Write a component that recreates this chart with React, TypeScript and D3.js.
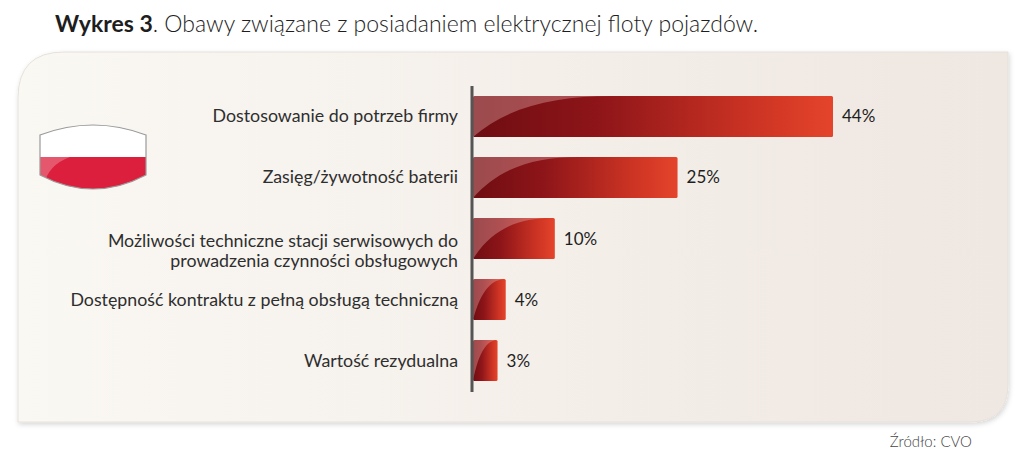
import React from "react";
import * as d3 from "d3";

const categories = [
  "Dostosowanie do potrzeb firmy",
  "Zasięg/żywotność baterii",
  "Możliwości techniczne stacji serwisowych do|prowadzenia czynności obsługowych",
  "Dostępność kontraktu z pełną obsługą techniczną",
  "Wartość rezydualna",
];
const values = [44, 25, 10, 4, 3];
const valueLabels = ["44%", "25%", "10%", "4%", "3%"];

const W = 1024;
const H = 463;
const FONT = "Lato, 'Open Sans', sans-serif";

export default function App() {
  const x = d3.scaleLinear().domain([0, 44]).range([473, 833]);
  const y = d3
    .scaleBand<string>()
    .domain(categories)
    .range([96, 381])
    .paddingInner(0.328)
    .paddingOuter(0);
  const bh = y.bandwidth();

  // panel shape
  const L = 18, T = 52, R = 1008, B = 422, r1 = 46, r2 = 38;
  const panel = `M${L},${T + r1} Q${L},${T} ${L + r1},${T} L${R},${T} L${R},${B - r2} Q${R},${B} ${R - r2},${B} L${L},${B} Z`;

  const flag = "M40,135 Q93,115 146,135 L146,175 Q93,203 40,175 Z";

  return (
    <svg width={W} height={H} style={{ position: "absolute", left: 0, top: 0, background: "#fff" }}>
      <defs>
        <linearGradient id="panelG" x1="0" x2="1" y1="0" y2="0">
          <stop offset="0" stopColor="#faf8f3" />
          <stop offset="1" stopColor="#efe7e1" />
        </linearGradient>
        <filter id="sh" x="-5%" y="-5%" width="110%" height="115%">
          <feDropShadow dx="1" dy="2" stdDeviation="2.5" floodColor="#000" floodOpacity="0.16" />
        </filter>
        <linearGradient id="barG" x1="0" x2="1" y1="0" y2="0">
          <stop offset="0" stopColor="#6e0d12" />
          <stop offset="0.35" stopColor="#8e1519" />
          <stop offset="0.8" stopColor="#cf3524" />
          <stop offset="1" stopColor="#e4442b" />
        </linearGradient>
        <clipPath id="flagClip">
          <path d={flag} />
        </clipPath>
      </defs>

      <path d={panel} fill="url(#panelG)" filter="url(#sh)" stroke="#e6e1da" strokeWidth={1} />

      <text x={55} y={32} fontFamily={FONT} fontSize={23} fill="#1e1e1e">
        <tspan fontWeight={700}>Wykres 3</tspan>
        <tspan fontWeight={300}>. Obawy związane z posiadaniem elektrycznej floty pojazdów.</tspan>
      </text>

      {/* flag */}
      <g clipPath="url(#flagClip)">
        <rect x={38} y={110} width={110} height={47} fill="#ffffff" />
        <rect x={38} y={157} width={110} height={50} fill="#dc1f3d" />
        <path d="M40,157 L70,157 Q48,165 44,185 L40,185 Z" fill="#ffffff" opacity={0.25} />
      </g>
      <path d={flag} fill="none" stroke="#9a9a9a" strokeWidth={1.2} />

      {/* bars */}
      {categories.map((c, i) => {
        const x0 = x(0);
        const x1 = x(values[i]);
        const w = x1 - x0;
        const y0 = y(c)!;
        const cw = Math.min(w, 60 + w * 0.22);
        const overlay = `M${x0},${y0 + bh} C${x0 + cw * 0.25},${y0 + bh * 0.25} ${x0 + cw * 0.6},${y0} ${x0 + cw},${y0} L${x0},${y0} Z`;
        return (
          <g key={c}>
            <rect x={x0} y={y0} width={w} height={bh} rx={1.5} fill="url(#barG)" />
            <path d={overlay} fill="#e8b0b0" opacity={0.38} />
          </g>
        );
      })}

      {/* axis */}
      <line x1={472} x2={472} y1={86} y2={392} stroke="#555" strokeWidth={3} />

      {/* category labels */}
      {categories.map((c, i) => {
        const yc = y(c)! + bh / 2;
        const lines = c.split("|");
        if (lines.length === 1) {
          return (
            <text key={c} x={458} y={yc + 6} textAnchor="end" fontFamily={FONT} fontSize={17.8} fill="#2e2e2e">
              {c}
            </text>
          );
        }
        return (
          <text key={c} x={458} textAnchor="end" fontFamily={FONT} fontSize={17.8} fill="#2e2e2e">
            {lines.map((l, k) => (
              <tspan key={k} x={458} y={yc + 8 + k * 20}>
                {l}
              </tspan>
            ))}
          </text>
        );
      })}

      {/* value labels */}
      {categories.map((c, i) => (
        <text
          key={c + "v"}
          x={x(values[i]) + 9}
          y={y(c)! + bh / 2 + 6}
          fontFamily={FONT}
          fontSize={17}
          fill="#1e1e1e"
        >
          {valueLabels[i]}
        </text>
      ))}

      <text x={972} y={447} textAnchor="end" fontFamily={FONT} fontWeight={300} fontSize={15} fill="#444">
        Źródło: CVO
      </text>
    </svg>
  );
}
